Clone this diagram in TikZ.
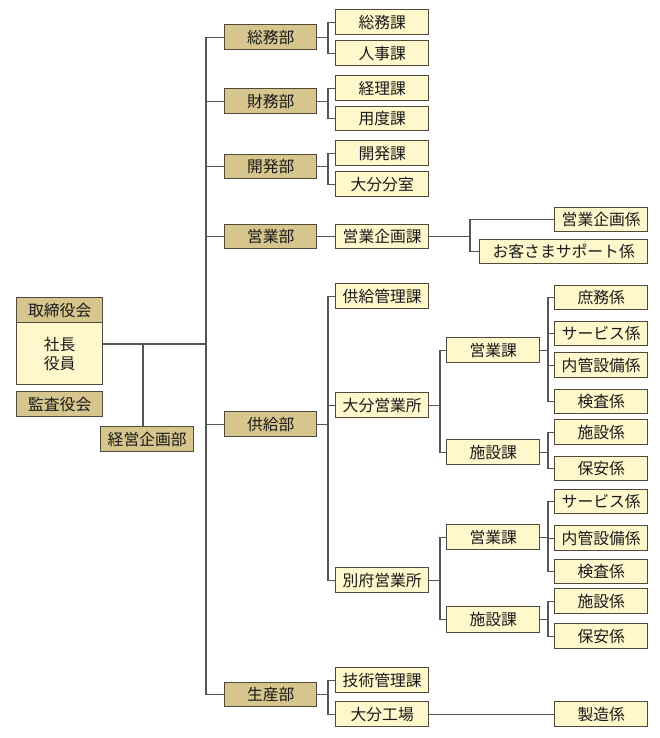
\documentclass[tikz,border=0pt]{standalone}
\usepackage{fontspec}
\setmainfont{Noto Sans CJK JP}
\definecolor{darkfill}{HTML}{D6C58C}
\definecolor{lightfill}{HTML}{FFF8CC}
\definecolor{boxline}{HTML}{4F4A3A}
\definecolor{connline}{HTML}{555555}
\tikzset{
  basebox/.style={draw=boxline, line width=1.4pt, inner sep=0pt, align=center,
    font=\fontsize{15.8}{19}\selectfont, text=black!90},
  darkbox/.style={basebox, fill=darkfill},
  lightbox/.style={basebox, fill=lightfill},
  conn/.style={draw=connline, line width=1.1pt}
}
\newcommand\bx[7]{\node[#6, anchor=north west, minimum width={(#4-#2)*1pt}, minimum height={(#5-#3)*1pt}] (#1) at (#2,#3) {#7};}
\newcommand\brk[4]{%
  \draw[conn] (#1.east) -- (#1.east -| #2);
  \draw[conn] (#3.west) -| (#4.west -| #2) -- (#4.west);}
\newcommand\midlink[2]{\draw[conn] (#1.west) -- (#1.west -| #2);}
\begin{document}
\begin{tikzpicture}[x=1pt,y=-1pt]
\useasboundingbox[fill=white] (0,0) rectangle (660,738);
% bracket x positions
\coordinate (trunk) at (206,0);
\coordinate (xa) at (328,0);
\coordinate (xb) at (440,0);
\coordinate (xc) at (548,0);
\coordinate (xd) at (470,0);
\coordinate (xe) at (143,0);
% left side
\bx{torihead}{16}{297}{102}{322}{darkbox}{取締役会}
\bx{toribody}{16}{322}{102}{384}{lightbox}{社長\\役員}
\bx{kansa}{16}{391}{102}{416}{darkbox}{監査役会}
\bx{keiei}{100}{426}{193}{451}{darkbox}{経営企画部}
% departments
\bx{somu}{224}{24}{316}{49}{darkbox}{総務部}
\bx{zaimu}{224}{88}{316}{113}{darkbox}{財務部}
\bx{kaihatsu}{224}{154}{316}{178}{darkbox}{開発部}
\bx{eigyo}{224}{224}{316}{248}{darkbox}{営業部}
\bx{kyokyu}{224}{411}{316}{436}{darkbox}{供給部}
\bx{seisan}{224}{682}{316}{706}{darkbox}{生産部}
% sections
\bx{somuka}{335}{9}{428}{34}{lightbox}{総務課}
\bx{jinji}{335}{40}{428}{65}{lightbox}{人事課}
\bx{keiri}{335}{75}{428}{100}{lightbox}{経理課}
\bx{yodo}{335}{106}{428}{130}{lightbox}{用度課}
\bx{kaihatsuka}{335}{140}{428}{165}{lightbox}{開発課}
\bx{oitabun}{335}{171}{428}{196}{lightbox}{大分分室}
\bx{eigyokikakuka}{335}{224}{428}{248}{lightbox}{営業企画課}
\bx{kyokyukanri}{335}{283}{428}{308}{lightbox}{供給管理課}
\bx{oitaeig}{335}{392}{428}{417}{lightbox}{大分営業所}
\bx{beppu}{335}{567}{428}{592}{lightbox}{別府営業所}
\bx{gijutsu}{335}{667}{428}{692}{lightbox}{技術管理課}
\bx{oitakojo}{335}{701}{428}{726}{lightbox}{大分工場}
% third level
\bx{oeigyo}{446}{337}{539}{362}{lightbox}{営業課}
\bx{oshisetsu}{446}{439}{539}{464}{lightbox}{施設課}
\bx{beigyo}{446}{524}{539}{549}{lightbox}{営業課}
\bx{bshisetsu}{446}{606}{539}{632}{lightbox}{施設課}
% fourth level
\bx{kikakugk}{554}{207}{647}{231}{lightbox}{営業企画係}
\bx{okyaku}{479}{239}{647}{263}{lightbox}{お客さまサポート係}
\bx{shomu}{554}{285}{647}{309}{lightbox}{庶務係}
\bx{oserv}{554}{321}{647}{345}{lightbox}{サービス係}
\bx{onaikan}{554}{352}{647}{377}{lightbox}{内管設備係}
\bx{okensa}{554}{389}{647}{413}{lightbox}{検査係}
\bx{oshisetsugk}{554}{419}{647}{444}{lightbox}{施設係}
\bx{ohoan}{554}{456}{647}{480}{lightbox}{保安係}
\bx{bserv}{554}{489}{647}{513}{lightbox}{サービス係}
\bx{bnaikan}{554}{525}{647}{550}{lightbox}{内管設備係}
\bx{bkensa}{554}{559}{647}{583}{lightbox}{検査係}
\bx{bshisetsugk}{554}{588}{647}{613}{lightbox}{施設係}
\bx{bhoan}{554}{623}{647}{648}{lightbox}{保安係}
\bx{seizo}{554}{701}{647}{726}{lightbox}{製造係}
% connectors: trunk
\coordinate (tj) at (206,344);
\coordinate (kj) at (143,344);
\draw[conn] (somu.west -| trunk) -- (seisan.west -| trunk);
\foreach \d in {somu,zaimu,kaihatsu,eigyo,kyokyu,seisan}{\draw[conn] (\d.west) -- (\d.west -| trunk);}
\draw[conn] (toribody.east |- tj) -- (tj);
\draw[conn] (kj) -- (keiei.north -| kj);
% department brackets
\brk{somu}{xa}{somuka}{jinji}
\brk{zaimu}{xa}{keiri}{yodo}
\brk{kaihatsu}{xa}{kaihatsuka}{oitabun}
\draw[conn] (eigyo.east) -- (eigyokikakuka.west);
\brk{kyokyu}{xa}{kyokyukanri}{beppu}
\midlink{oitaeig}{xa}
\brk{seisan}{xa}{gijutsu}{oitakojo}
% sales planning
\brk{eigyokikakuka}{xd}{kikakugk}{okyaku}
% Oita office
\brk{oitaeig}{xb}{oeigyo}{oshisetsu}
\brk{oeigyo}{xc}{shomu}{okensa}
\midlink{oserv}{xc}
\midlink{onaikan}{xc}
\brk{oshisetsu}{xc}{oshisetsugk}{ohoan}
% Beppu office
\brk{beppu}{xb}{beigyo}{bshisetsu}
\brk{beigyo}{xc}{bserv}{bkensa}
\midlink{bnaikan}{xc}
\brk{bshisetsu}{xc}{bshisetsugk}{bhoan}
% factory
\draw[conn] (oitakojo.east) -- (seizo.west);
\end{tikzpicture}
\end{document}
